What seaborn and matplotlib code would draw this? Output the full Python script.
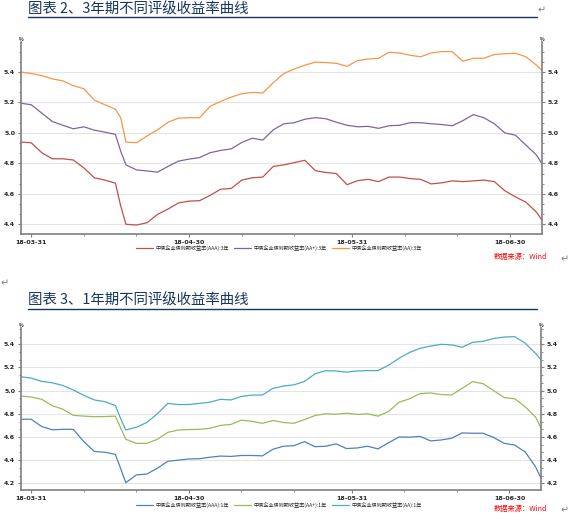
import numpy as np
import pandas as pd
import matplotlib
matplotlib.use("Agg")
import matplotlib.pyplot as plt
import matplotlib.dates as mdates
from matplotlib.lines import Line2D
from matplotlib.ticker import MultipleLocator, AutoMinorLocator, FormatStrFormatter, FixedLocator
import seaborn as sns


# trading-day samples
DATEs = ["2018-03-29", "2018-03-31",
         "2018-04-02", "2018-04-04", "2018-04-06", "2018-04-08", "2018-04-10", "2018-04-12", "2018-04-14",
         "2018-04-16", "2018-04-17", "2018-04-18", "2018-04-20", "2018-04-22", "2018-04-24", "2018-04-26",
         "2018-04-28", "2018-04-30",
         "2018-05-02", "2018-05-04", "2018-05-06", "2018-05-08", "2018-05-10", "2018-05-12", "2018-05-14",
         "2018-05-16", "2018-05-18", "2018-05-20", "2018-05-22", "2018-05-24", "2018-05-26", "2018-05-28",
         "2018-05-30",
         "2018-06-01", "2018-06-03", "2018-06-05", "2018-06-07", "2018-06-09", "2018-06-11", "2018-06-13",
         "2018-06-15", "2018-06-17", "2018-06-19", "2018-06-21", "2018-06-23", "2018-06-25", "2018-06-27",
         "2018-06-29",
         "2018-07-01", "2018-07-03", "2018-07-05", "2018-07-06"]

# 3-year yields (%)
AAA_3Y = [4.94, 4.935, 4.87, 4.83, 4.83, 4.822, 4.77, 4.705, 4.69, 4.67, 4.52, 4.40, 4.395, 4.41, 4.465, 4.50, 4.54, 4.552,
          4.555, 4.59, 4.63, 4.635, 4.69, 4.705, 4.71, 4.78, 4.79, 4.805, 4.82, 4.752, 4.74, 4.733, 4.66,
          4.686, 4.695, 4.68, 4.71, 4.71, 4.70, 4.695, 4.665, 4.672, 4.685, 4.68, 4.685, 4.69, 4.68, 4.62,
          4.58, 4.545, 4.48, 4.43]
AAp_3Y = [5.195, 5.185, 5.13, 5.075, 5.05, 5.027, 5.04, 5.018, 5.005, 4.99, 4.88, 4.79, 4.757, 4.75, 4.742, 4.78, 4.815, 4.828,
          4.838, 4.87, 4.885, 4.895, 4.937, 4.965, 4.953, 5.02, 5.06, 5.067, 5.09, 5.10, 5.093, 5.07, 5.05,
          5.04, 5.043, 5.03, 5.047, 5.05, 5.067, 5.067, 5.06, 5.055, 5.047, 5.08, 5.12, 5.10, 5.06, 5.0,
          4.985, 4.92, 4.855, 4.80]
AA_3Y = [5.40, 5.39, 5.376, 5.355, 5.342, 5.31, 5.29, 5.215, 5.185, 5.155, 5.10, 4.94, 4.935, 4.98, 5.02, 5.07, 5.097, 5.10,
         5.10, 5.175, 5.207, 5.235, 5.257, 5.266, 5.262, 5.33, 5.39, 5.42, 5.445, 5.465, 5.462, 5.457, 5.437,
         5.475, 5.485, 5.49, 5.53, 5.525, 5.51, 5.50, 5.525, 5.534, 5.534, 5.47, 5.49, 5.49, 5.515, 5.52,
         5.523, 5.50, 5.445, 5.413]

# 1-year yields (%)
AAA_1Y = [4.753, 4.753, 4.69, 4.662, 4.666, 4.666, 4.56, 4.475, 4.468, 4.45, 4.33, 4.205, 4.272, 4.28, 4.33, 4.39, 4.40, 4.41,
          4.412, 4.425, 4.435, 4.432, 4.44, 4.44, 4.437, 4.494, 4.52, 4.525, 4.56, 4.516, 4.52, 4.54, 4.50,
          4.505, 4.52, 4.497, 4.55, 4.60, 4.598, 4.605, 4.566, 4.574, 4.589, 4.635, 4.632, 4.632, 4.595, 4.545,
          4.53, 4.47, 4.34, 4.243]
AAp_1Y = [4.954, 4.945, 4.925, 4.87, 4.84, 4.787, 4.78, 4.775, 4.776, 4.78, 4.68, 4.58, 4.545, 4.545, 4.58, 4.64, 4.66, 4.664,
          4.666, 4.675, 4.70, 4.708, 4.745, 4.735, 4.718, 4.742, 4.725, 4.718, 4.75, 4.785, 4.80, 4.796, 4.805,
          4.795, 4.80, 4.78, 4.82, 4.90, 4.93, 4.975, 4.98, 4.966, 4.963, 5.02, 5.078, 5.06, 5.00, 4.94,
          4.93, 4.86, 4.77, 4.675]
AA_1Y = [5.12, 5.108, 5.08, 5.068, 5.045, 5.006, 4.96, 4.92, 4.905, 4.872, 4.76, 4.66, 4.684, 4.725, 4.80, 4.89, 4.88, 4.88,
         4.89, 4.90, 4.925, 4.92, 4.95, 4.962, 4.962, 5.02, 5.04, 5.05, 5.08, 5.145, 5.172, 5.17, 5.16,
         5.17, 5.173, 5.173, 5.22, 5.28, 5.33, 5.366, 5.385, 5.40, 5.395, 5.375, 5.417, 5.426, 5.45, 5.463,
         5.466, 5.41, 5.32, 5.265]

LABELs_3Y = ["中债企业债到期收益率(AAA):3年", "中债企业债到期收益率(AA+):3年", "中债企业债到期收益率(AA):3年"]
LABELs_1Y = ["中债企业债到期收益率(AAA):1年", "中债企业债到期收益率(AA+):1年", "中债企业债到期收益率(AA):1年"]
COLORs_3Y = ["#C0504D", "#8064A2", "#F79646"]
COLORs_1Y = ["#4F81BD", "#9BBB59", "#4BACC6"]
MAJOR_DATEs = ["2018-03-31", "2018-04-30", "2018-05-31", "2018-06-30"]

W, H = 570, 520
NAVY = "#17375E"
GREY = "#7F7F7F"


def to_frame(labels, series):
    rows = []
    for label, vals in zip(labels, series):
        rows.append(pd.DataFrame({"date": pd.to_datetime(DATEs), "value": vals, "series": label}))
    return pd.concat(rows, ignore_index=True)


def fx(x): return x / W
def fy(y): return 1 - y / H


def draw_panel(fig, rect, frame, labels, colors, ylim, legend_y, title, title_y, line_y, src_y):
    ax = fig.add_axes(rect)
    sns.lineplot(data=frame, x="date", y="value", hue="series", hue_order=labels, palette=colors,
                 linewidth=0.9, ax=ax, legend=False)
    ax.set_xlim(pd.Timestamp(DATEs[0]), pd.Timestamp(DATEs[-1]))
    ax.set_ylim(*ylim)
    ax.set_xlabel("")
    ax.set_ylabel("")
    ax.yaxis.set_major_locator(MultipleLocator(0.2))
    ax.yaxis.set_minor_locator(AutoMinorLocator(3))
    ax.yaxis.set_major_formatter(FormatStrFormatter("%.1f"))
    ax.xaxis.set_major_locator(FixedLocator(mdates.date2num(pd.to_datetime(MAJOR_DATEs))))
    ax.xaxis.set_minor_locator(mdates.DayLocator(bymonthday=[10, 20]))
    ax.xaxis.set_major_formatter(mdates.DateFormatter("%y-%m-%d"))
    ax.grid(axis="y", which="major", color="#E4E4E4", linewidth=0.8)
    ax.grid(axis="x", visible=False)
    for side in ["left", "right", "bottom"]:
        ax.spines[side].set_visible(True)
        ax.spines[side].set_color(GREY)
        ax.spines[side].set_linewidth(1.2)
    ax.spines["top"].set_visible(False)
    ax.tick_params(axis="both", which="major", length=2.5, width=0.8, color=GREY, labelsize=4.5, pad=1.5)
    ax.tick_params(axis="both", which="minor", length=1.6, width=0.6, color=GREY)
    ax.tick_params(axis="y", which="both", left=True, right=True, labelleft=True, labelright=True)
    ax.tick_params(axis="x", which="both", bottom=True)
    for lab in ax.get_xticklabels() + ax.get_yticklabels():
        lab.set_fontweight("bold")
        lab.set_family(["DejaVu Sans"])
    ax.text(0, 1.0, "%", transform=ax.transAxes, ha="center", va="bottom", fontsize=3.5, fontweight="bold")
    ax.text(1, 1.0, "%", transform=ax.transAxes, ha="center", va="bottom", fontsize=3.5, fontweight="bold")

    handles = [Line2D([0], [0], color=c, lw=0.9) for c in colors]
    fig.legend(handles, labels, loc="center", bbox_to_anchor=(fx(279), fy(legend_y)), ncol=3, fontsize=3.7,
               frameon=False, handlelength=3.4, handletextpad=0.5, columnspacing=0.9)

    fig.text(fx(28), fy(title_y), title, fontsize=10.4, color=NAVY, va="center", ha="left")
    fig.add_artist(Line2D([fx(28), fx(537)], [fy(line_y), fy(line_y)], color=NAVY, lw=1.0))
    fig.text(fx(547), fy(src_y), "数据来源：Wind", color="#FF0000", style="italic", fontsize=5.2,
             ha="right", va="center")
    return ax


sns.set_theme(style="white")
plt.rcParams["font.family"] = ["Noto Sans CJK SC", "DejaVu Sans"]
plt.rcParams["axes.unicode_minus"] = False

fig = plt.figure(figsize=(W / 100, H / 100), dpi=100)
fig.patch.set_facecolor("white")

frame_3y = to_frame(LABELs_3Y, [AAA_3Y, AAp_3Y, AA_3Y])
frame_1y = to_frame(LABELs_1Y, [AAA_1Y, AAp_1Y, AA_1Y])

draw_panel(fig, [fx(20.7), fy(234), fx(521), 192 / H], frame_3y, LABELs_3Y, COLORs_3Y,
           (4.336, 5.597), 248, "图表 2、3年期不同评级收益率曲线", 9.5, 17, 257)
draw_panel(fig, [fx(20.7), fy(490), fx(520.3), 162 / H], frame_1y, LABELs_1Y, COLORs_1Y,
           (4.142, 5.541), 505, "图表 3、1年期不同评级收益率曲线", 300.5, 309, 509)

for x, y in [(542, 10), (565, 259), (5, 283), (565, 510)]:
    fig.text(fx(x), fy(y), "↵", fontsize=7, color="#808080", ha="center", va="center", family=["DejaVu Sans"])

fig.savefig("out.png", dpi=100)
